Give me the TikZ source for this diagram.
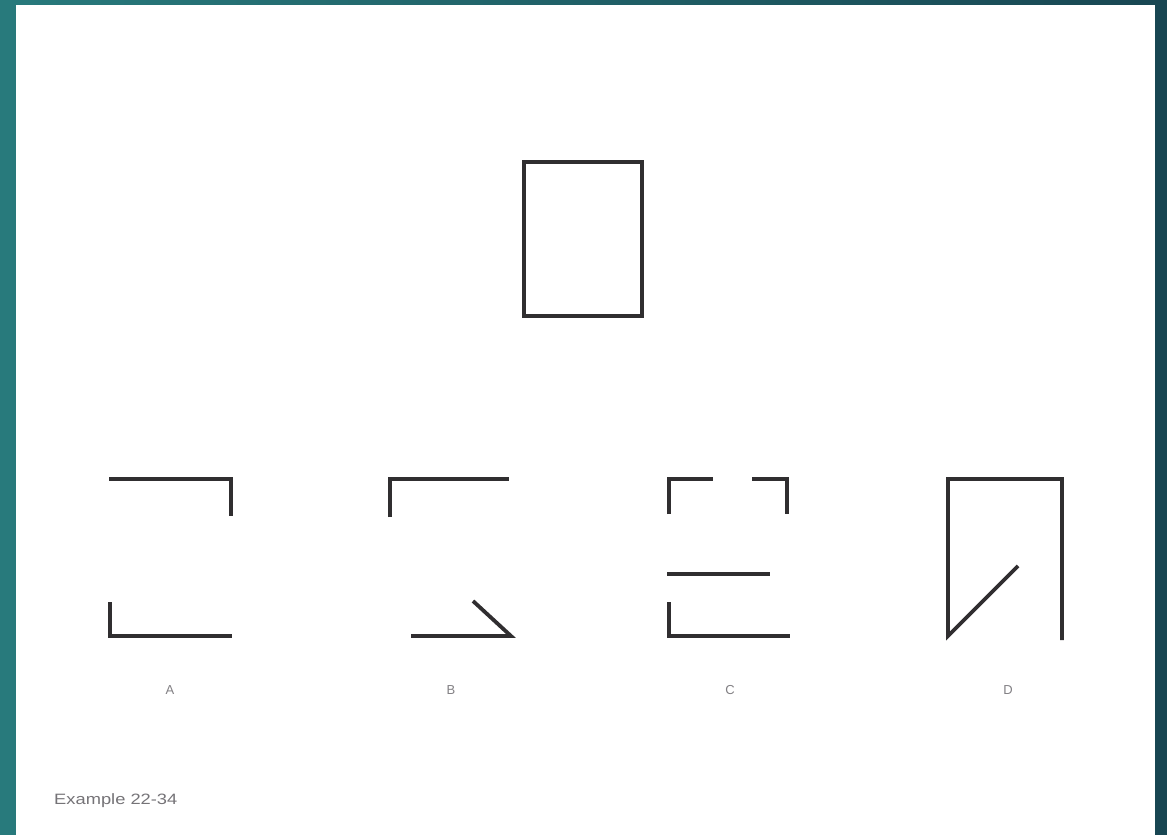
\documentclass[tikz,border=0pt]{standalone}
\usepackage{fontspec}
\setmainfont{Liberation Sans}
\definecolor{tealL}{RGB}{40,122,124}
\definecolor{tealR}{RGB}{24,70,82}
\definecolor{ink}{RGB}{48,46,48}
\definecolor{lab}{RGB}{130,128,132}
\begin{document}
\begin{tikzpicture}[x=1pt,y=-1pt,
  fig/.style={draw=ink,line width=3.8pt,line cap=butt,line join=miter},
  optlabel/.style={text=lab,font=\fontsize{13}{13}\selectfont,inner sep=0pt},
  note/.style={text=lab!90!black,font=\fontsize{15}{15}\selectfont,inner sep=0pt,anchor=west,xscale=1.22}]
\useasboundingbox (0,0) rectangle (1167,835);
\shade[left color=tealL,right color=tealR] (0,0) rectangle (1167,835);
\fill[white] (16,5) rectangle (1155,835);
% question figure
\draw[fig] (524,162) rectangle (642,316);
% option A
\draw[fig] (109,479) -- (231,479) -- (231,516);
\draw[fig] (110,602) -- (110,636) -- (232,636);
% option B
\draw[fig] (390,517) -- (390,479) -- (509,479);
\draw[fig] (411,636) -- (511,636) -- (473,601);
% option C
\draw[fig] (669,514) -- (669,479) -- (713,479);
\draw[fig] (752,479) -- (787,479) -- (787,514);
\draw[fig] (667,574) -- (770,574);
\draw[fig] (669,602) -- (669,636) -- (790,636);
% option D
\draw[fig] (1018,566) -- (948,636) -- (948,479) -- (1062,479) -- (1062,640);
% labels
\node[optlabel] (la) at (170,690) {A};
\node[optlabel] (lb) at (451,690) {B};
\node[optlabel] (lc) at (730,690) {C};
\node[optlabel] (ld) at (1008,690) {D};
\node[note] (ex) at (54,801) {Example 22-34};
\end{tikzpicture}
\end{document}
